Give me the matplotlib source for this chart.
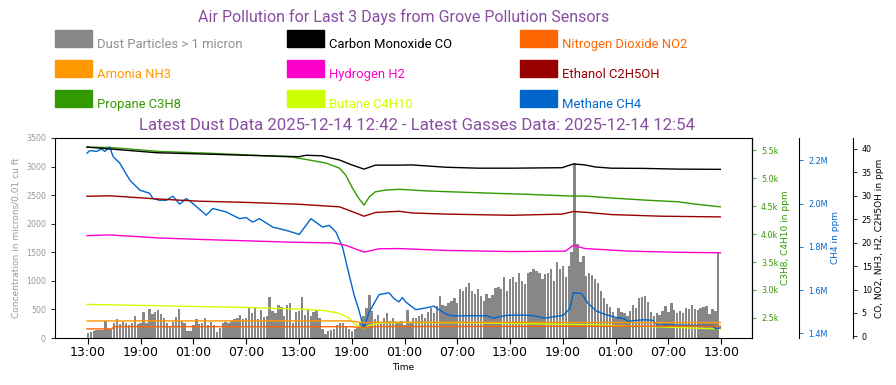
import numpy as np
import matplotlib
matplotlib.use('Agg')
import matplotlib.pyplot as plt
import matplotlib.dates as mdates
from matplotlib.patches import Rectangle
from matplotlib.ticker import MultipleLocator, FuncFormatter
from datetime import datetime, timedelta

# ---------------- data ----------------
base_time = datetime(2025, 12, 11, 13, 0)   # hours below are measured from this
dust_step_min = 20

dust_values = [
    93, 111, 122, 134, 134, 134, 297, 152, 152, 256, 338, 239, 280, 256, 222, 256, 385, 239, 256, 455, 256,
    513, 414, 455, 490, 414, 356, 256, 210, 280, 373, 513, 297, 256, 122, 122, 222, 338, 239, 256, 356, 222, 280,
    222, 105, 181, 256, 280, 256, 297, 338, 356, 396, 338, 356, 531, 431, 525, 338, 490, 373, 385, 717, 472,
    443, 571, 548, 385, 571, 618, 256, 455, 472, 723, 396, 513, 385, 455, 490, 356, 152, 64, 117, 140, 163, 222, 268,
    256, 198, 152, 122, 163, 181, 256, 385, 531, 746, 472, 327, 396, 256, 356, 431, 297, 356, 256, 256, 297,
    222, 490, 280, 356, 356, 385, 414, 356, 455, 531, 431, 560, 735, 583, 560, 618, 648, 706, 618, 863, 822, 898,
    968, 822, 764, 851, 735, 648, 764, 706, 746, 880, 898, 851, 1073, 822, 1038, 1073, 980, 1131, 997, 939,
    1131, 1154, 1201, 1172, 1143, 1026, 1114, 1131, 1201, 997, 1329, 1201, 1259, 1073, 1259, 1504, 3060, 1650,
    1329, 1434, 1085, 1143, 1097, 1026,
    968, 822, 706, 589, 548, 455, 356, 531, 455, 431, 385, 472, 571, 531, 706, 723, 735, 630, 455, 385, 443,
    396, 472, 560, 455, 618, 490, 431, 472, 443, 531, 513, 571, 513, 490, 531, 548, 560, 414, 513, 472, 1505,
]

co_hours = [-0.1, 7.8, 13.5, 18.0, 24.0, 24.8, 26.6, 28.6, 30.0, 31.4, 32.7, 35.4, 36.8, 40.7, 44.4, 48.2,
            53.9, 55.2, 56.5, 57.7, 59.5, 63.3, 67.1, 71.9]
co_values = [40.4, 39.2, 38.9, 38.65, 38.35, 38.65, 38.55, 37.65, 36.6, 35.7, 36.55, 36.55, 36.6, 36.1, 35.9,
             35.9, 36.0, 36.8, 36.6, 36.15, 35.9, 35.85, 35.7, 35.65]

no2_hours = [-0.1, 2.7, 3.0, 29.8, 31.4, 32.6, 71.9]
no2_values = [1.6, 1.6, 2.08, 2.08, 1.85, 2.1, 2.2]

nh3_hours = [-0.1, 29.8, 31.4, 32.6, 45.0, 71.9]
nh3_values = [3.3, 3.3, 2.9, 3.05, 3.0, 2.95]

h2_hours = [-0.1, 2.5, 8.2, 13.5, 23.3, 27.8, 29.3, 31.4, 33.1, 35.4, 40.7, 48.2, 54.3, 55.2, 56.5, 61.5,
            67.1, 71.9]
h2_values = [21.5, 21.65, 21.0, 20.65, 20.1, 19.95, 19.45, 18.0, 18.7, 18.75, 18.35, 18.1, 18.2, 19.45, 18.75,
             18.2, 17.95, 17.85]

ethanol_hours = [-0.1, 2.5, 8.2, 12.7, 18.0, 24.0, 28.6, 30.1, 31.4, 32.7, 35.4, 36.8, 40.7, 48.2, 53.9,
                 55.2, 56.5, 59.5, 65.2, 71.9]
ethanol_values = [29.9, 30.0, 29.3, 28.85, 28.6, 28.2, 27.65, 26.6, 25.65, 26.45, 26.7, 26.35, 26.1, 25.85,
                  26.1, 26.65, 26.5, 26.0, 25.65, 25.5]

propane_hours = [-0.1, 2.5, 8.2, 13.5, 18.0, 23.3, 25.5, 27.1, 28.6, 29.3, 30.1, 30.8, 31.4, 32.0, 32.7,
                 33.9, 35.4, 38.8, 44.4, 50.1, 55.0, 56.5, 59.6, 63.3, 67.1, 69.0, 71.9]
propane_values = [5561, 5554, 5482, 5453, 5422, 5381, 5320, 5273, 5183, 5062, 4822, 4641, 4520, 4670, 4760,
                  4791, 4804, 4773, 4742, 4713, 4683, 4683, 4647, 4611, 4580, 4539, 4490]

butane_hours = [-0.1, 8.2, 18.0, 24.0, 27.1, 28.6, 29.7, 30.3, 31.4, 32.0, 33.5, 36.2, 43.4, 57.8, 61.5,
                65.3, 69.0, 71.9]
butane_values = [2740, 2716, 2686, 2657, 2626, 2578, 2500, 2390, 2303, 2368, 2410, 2415, 2410, 2375, 2350,
                 2337, 2314, 2301]

methane_hours = [-0.1, 0.23, 0.99, 1.55, 1.93, 2.49, 2.87, 3.63, 4.76, 5.90, 7.03, 7.40, 8.16, 8.92, 9.67,
                 10.43, 11.19, 11.94, 13.46, 14.21, 15.73, 17.23, 17.99, 18.74, 19.50, 21.01, 22.53, 24.04,
                 24.80, 25.36, 26.68, 27.44, 28.20, 28.95, 29.71, 30.27, 30.84, 31.35, 31.97, 33.11, 34.24,
                 34.81, 35.37, 35.75, 36.13, 37.27, 38.40, 39.34, 39.91, 40.67, 41.42, 43.31, 45.35, 46.11,
                 47.62, 49.51, 50.65, 51.96, 54.05, 54.80, 55.18, 56.12, 56.88, 57.82, 58.73, 59.86, 60.99,
                 61.37, 62.51, 63.27, 64.21, 64.78, 65.53, 68.93, 71.01, 71.39, 71.9]
methane_values = [2.234, 2.246, 2.242, 2.253, 2.242, 2.262, 2.218, 2.188, 2.110, 2.063, 2.048, 2.024, 2.016,
                  2.016, 2.035, 1.998, 2.024, 2.001, 1.947, 1.978, 1.962, 1.931, 1.936, 1.915, 1.931, 1.892,
                  1.877, 1.858, 1.900, 1.931, 1.892, 1.900, 1.869, 1.800, 1.670, 1.577, 1.505, 1.423, 1.498,
                  1.580, 1.588, 1.561, 1.546, 1.566, 1.546, 1.510, 1.518, 1.526, 1.510, 1.491, 1.481, 1.482,
                  1.482, 1.471, 1.484, 1.485, 1.482, 1.471, 1.484, 1.515, 1.588, 1.585, 1.538, 1.504, 1.489,
                  1.476, 1.468, 1.456, 1.461, 1.463, 1.461, 1.437, 1.440, 1.437, 1.437, 1.421, 1.426]
methane_values = [v * 1e6 for v in methane_values]

legend_labels = ["Dust Particles > 1 micron", "Carbon Monoxide CO", "Nitrogen Dioxide NO2",
                 "Amonia NH3", "Hydrogen H2", "Ethanol C2H5OH",
                 "Propane C3H8", "Butane C4H10", "Methane CH4"]
legend_colors = ["#878787", "#000000", "#FF6600",
                 "#FF9900", "#FF00CC", "#990000",
                 "#339900", "#CCFF00", "#0066CC"]
legend_text_colors = ["#8f8f8f", "#000000", "#FF6600",
                      "#FF9900", "#FF00CC", "#990000",
                      "#339900", "#CCFF00", "#0066CC"]

title_main = "Air Pollution for Last 3 Days from Grove Pollution Sensors"
title_sub = "Latest Dust Data 2025-12-14 12:42 - Latest Gasses Data: 2025-12-14 12:54"

# ---------------- helpers ----------------
def to_time(hours):
    return [base_time + timedelta(hours=h) for h in hours]

dust_times = [base_time + timedelta(minutes=dust_step_min * i) for i in range(len(dust_values))]

W, H = 896, 385
fig = plt.figure(figsize=(W / 100, H / 100), dpi=100)
ax = fig.add_axes([55 / W, 47 / H, 697 / W, 200 / H])

purple = "#884EA0"
gray_txt = "#999999"

# dust bars
ax.bar(dust_times, dust_values, width=dust_step_min / 1440 * 0.8, color="#878787", linewidth=0,
       align='center', zorder=1)
ax.set_ylim(0, 3500)
ax.yaxis.set_major_locator(MultipleLocator(500))
ax.tick_params(axis='y', labelsize=5.7, labelcolor=gray_txt, length=3, width=0.6)
ax.set_ylabel("Concentration in microns/0.01 cu ft", fontsize=6.5, color=gray_txt, labelpad=4)
ax.xaxis.set_major_locator(mdates.HourLocator(byhour=[1, 7, 13, 19]))
ax.xaxis.set_major_formatter(mdates.DateFormatter('%H:%M'))
ax.tick_params(axis='x', labelsize=9, length=4, width=0.8, pad=2)
ax.set_xlabel("Time", fontsize=6.5, labelpad=3)

lw = 1.0
# propane / butane axis (right spine of main axes)
ax_c = ax.twinx()
ax_c.plot(to_time(propane_hours), propane_values, color="#339900", lw=lw)
ax_c.plot(to_time(butane_hours), butane_values, color="#CCFF00", lw=lw)
ax_c.yaxis.set_major_locator(MultipleLocator(500))
ax_c.yaxis.set_major_formatter(FuncFormatter(lambda v, p: f"{v/1000:.1f}k"))
ax_c.tick_params(axis='y', colors="#339900", labelsize=5.8, length=3, width=0.6)
ax_c.set_ylabel("C3H8, C4H10 in ppm", fontsize=6.5, color="#339900", labelpad=2)
ax_c.spines['right'].set_color('black')

# methane axis
ax_m = ax.twinx()
ax_m.spines['right'].set_position(('axes', 1.068))
ax_m.plot(to_time(methane_hours), methane_values, color="#0066CC", lw=lw)
ax_m.yaxis.set_major_locator(MultipleLocator(200000))
ax_m.yaxis.set_major_formatter(FuncFormatter(lambda v, p: f"{v/1e6:.1f}M"))
ax_m.tick_params(axis='y', colors="#0066CC", labelsize=5.8, length=3, width=0.6)
ax_m.set_ylabel("CH4 in ppm", fontsize=6.5, color="#0066CC", labelpad=2)
ax_m.spines['right'].set_color('black')

# CO etc axis
ax_g = ax.twinx()
ax_g.spines['right'].set_position(('axes', 1.1445))
ax_g.plot(to_time(nh3_hours), nh3_values, color="#FF9900", lw=lw)
ax_g.plot(to_time(no2_hours), no2_values, color="#FF6600", lw=lw)
ax_g.plot(to_time(h2_hours), h2_values, color="#FF00CC", lw=lw)
ax_g.plot(to_time(ethanol_hours), ethanol_values, color="#990000", lw=lw)
ax_g.plot(to_time(co_hours), co_values, color="#000000", lw=lw)
ax_g.yaxis.set_major_locator(MultipleLocator(5))
ax_g.tick_params(axis='y', colors="black", labelsize=5.8, length=3, width=0.6)
ax_g.set_ylabel("CO, NO2, NH3, H2, C2H5OH in ppm", fontsize=6.5, color="black", labelpad=2)

for a in (ax_c, ax_m, ax_g):
    for s in ('left', 'top', 'bottom'):
        a.spines[s].set_visible(False)

# titles
fig.text(404 / W, 1 - 17 / H, title_main, ha='center', va='center', fontsize=11.5, color=purple,
         family='Roboto')
fig.text(417 / W, 1 - 125 / H, title_sub, ha='center', va='center', fontsize=12.1, color=purple,
         family='Roboto')

# legend (3 x 3 grid of colour boxes with labels)
col_x = [55, 287, 520]
row_y = [30, 60, 90]
for i, (lab, c, tc) in enumerate(zip(legend_labels, legend_colors, legend_text_colors)):
    r, cidx = divmod(i, 3)
    x0 = col_x[cidx]
    y0 = row_y[r]
    fig.patches.append(Rectangle((x0 / W, 1 - (y0 + 17) / H), 37 / W, 17 / H,
                                 transform=fig.transFigure, color=c, zorder=1))
    fig.text((x0 + 42) / W, 1 - (y0 + 14.5) / H, lab, ha='left', va='center', fontsize=9.4, color=tc,
             family='Roboto')

fig.savefig("out.png", dpi=100)
